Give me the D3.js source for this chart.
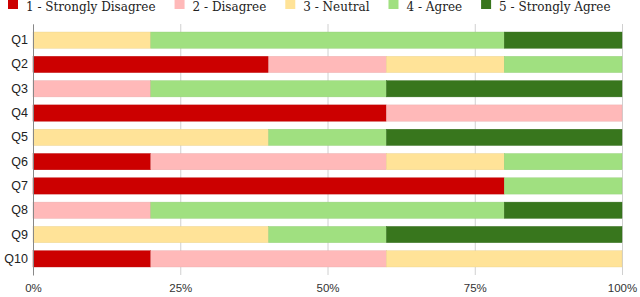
<!DOCTYPE html>
<html>
<head>
<meta charset="utf-8">
<script src="https://cdn.jsdelivr.net/npm/d3@7/dist/d3.min.js"></script>
<style>
  body { margin: 0; background: #fff; }
  svg { display: block; font-family: Georgia, "DejaVu Serif", serif; }
</style>
</head>
<body>
<div id="chart"></div>
<script>
const questions = ['Q1', 'Q2', 'Q3', 'Q4', 'Q5', 'Q6', 'Q7', 'Q8', 'Q9', 'Q10']
const answers = ['1 - Strongly Disagree', '2 - Disagree', '3 - Neutral', '4 - Agree', '5 - Strongly Agree']
const colors = ['#cc0000', '#ffb9b9', '#ffe398', '#a0e080', '#38761d']

// share of answers (%) per question, in the order of `answers`
const stronglyDisagree = [0, 40, 0, 60, 0, 20, 80, 0, 0, 20]
const disagree = [0, 20, 20, 40, 0, 40, 0, 20, 0, 40]
const neutral = [20, 20, 0, 0, 40, 20, 0, 0, 40, 40]
const agree = [60, 20, 40, 0, 20, 20, 20, 60, 20, 0]
const stronglyAgree = [20, 0, 40, 0, 40, 0, 0, 20, 40, 0]

const tickValues = [0, 25, 50, 75, 100]

const width = 640
const height = 297
const margin = { top: 24, right: 18, bottom: 22, left: 33 }

const rows = questions.map((q, i) => ({
  q,
  values: [stronglyDisagree[i], disagree[i], neutral[i], agree[i], stronglyAgree[i]],
}))

const series = d3.stack()
  .keys(d3.range(answers.length))
  .value((d, k) => d.values[k])(rows)

const svg = d3.select('#chart')
  .append('svg')
  .attr('width', width)
  .attr('height', height)

const x = d3.scaleLinear()
  .domain([0, 100])
  .range([margin.left, width - margin.right])

const y = d3.scaleBand()
  .domain(questions)
  .range([margin.top, height - margin.bottom])
  .paddingInner(0.33)
  .paddingOuter(0.33)

// grid + bottom axis
const xAxis = svg.append('g')
  .attr('transform', `translate(0,${height - margin.bottom})`)
  .call(d3.axisBottom(x)
    .tickValues(tickValues)
    .tickSize(-(height - margin.bottom - margin.top))
    .tickFormat((d) => `${d}%`))

xAxis.select('.domain').remove()
xAxis.selectAll('.tick line').attr('stroke', '#d0d0d0')
xAxis.selectAll('.tick text')
  .attr('y', 9)
  .attr('dy', '0.71em')
  .attr('fill', '#333')
  .style('font-size', '11.5px')

// bars
svg.append('g')
  .selectAll('g')
  .data(series)
  .join('g')
  .attr('fill', (s) => colors[s.key])
  .attr('stroke', (s) => d3.color(colors[s.key]).darker(0.25))
  .attr('stroke-width', 0.4)
  .selectAll('rect')
  .data((s) => s.filter((d) => d[1] > d[0]))
  .join('rect')
  .attr('x', (d) => x(d[0]))
  .attr('y', (d) => y(d.data.q))
  .attr('width', (d) => x(d[1]) - x(d[0]))
  .attr('height', y.bandwidth())

// left axis
const yAxis = svg.append('g')
  .attr('transform', `translate(${margin.left},0)`)
  .call(d3.axisLeft(y).tickSize(0).tickPadding(5))

yAxis.select('.domain').attr('stroke', '#888')
yAxis.selectAll('.tick text')
  .attr('fill', '#222')
  .style('font-size', '12.5px')

// legend
const legend = svg.append('g')
  .attr('transform', 'translate(8,0)')

let lx = 0
answers.forEach((name, i) => {
  const item = legend.append('g').attr('transform', `translate(${lx},0)`)
  item.append('rect')
    .attr('y', 0)
    .attr('width', 10)
    .attr('height', 9)
    .attr('fill', colors[i])
  const label = item.append('text')
    .attr('x', 18)
    .attr('y', 11)
    .attr('fill', '#222')
    .style('font-size', '12px')
    .text(name)
  lx += 18 + label.node().getComputedTextLength() + 19
})
</script>
</body>
</html>
